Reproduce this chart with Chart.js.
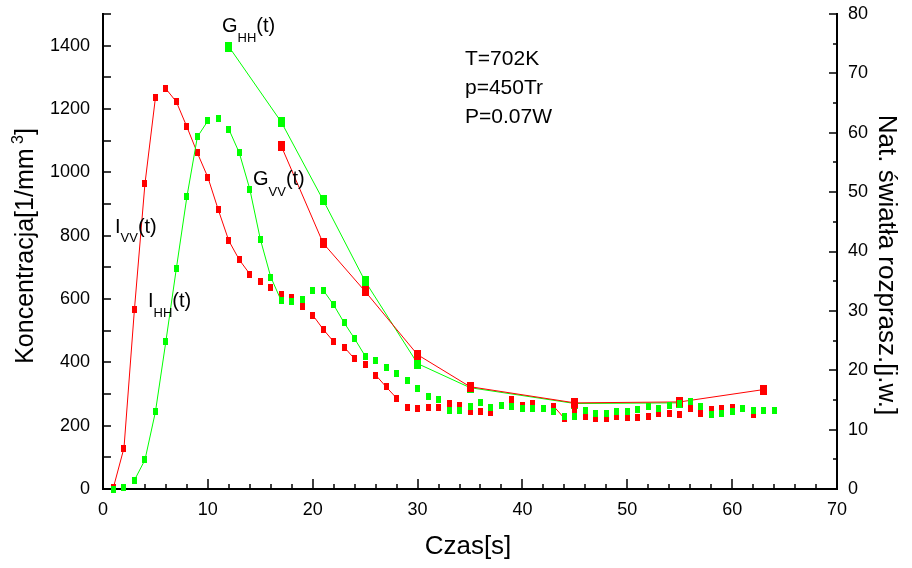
<!DOCTYPE html>
<html>
<head>
<meta charset="utf-8">
<script src="https://cdn.jsdelivr.net/npm/chart.js@4.4.1/dist/chart.umd.min.js"></script>
<style>
  html, body { margin: 0; padding: 0; background: #fff; }
</style>
</head>
<body>
<canvas id="wykres" width="912" height="568"></canvas>
<script>
// czas pomiaru dla I(t), s
const tI = [1, 2, 3, 4, 5, 6, 7, 8, 9, 10, 11, 12, 13, 14, 15, 16, 17, 18, 19, 20,
            21, 22, 23, 24, 25, 26, 27, 28, 29, 30, 31, 32, 33, 34, 35, 36, 37, 38, 39, 40,
            41, 42, 43, 44, 45, 46, 47, 48, 49, 50, 51, 52, 53, 54, 55, 56, 57, 58, 59, 60,
            61, 62, 63, 64];
// natezenie swiatla rozproszonego [j.w.] (prawa os)
const iVV = [0.3, 6.9, 30.3, 51.4, 65.9, 67.4, 65.2, 61.0, 56.6, 52.5, 47.0, 41.8, 38.6, 36.2, 35.0, 34.0, 32.8, 32.3, 30.8, 29.3,
             26.9, 24.8, 23.9, 21.9, 20.9, 19.2, 17.2, 15.3, 13.8, 13.5, 13.8, 13.7, 14.4, 14.1, 13.0, 13.0, 12.9, 14.0, 15.0, 14.1,
             14.4, 13.6, 13.9, 11.9, 13.3, 12.2, 11.8, 11.8, 12.2, 12.0, 12.0, 12.2, 12.8, 12.8, 12.6, 13.5, 12.8, 13.4, 13.5, 13.7,
             13.5, 12.5, 13.3, 13.2];
const iHH = [0.0, 0.3, 1.5, 4.9, 13.0, 24.9, 37.2, 49.2, 59.3, 62.0, 62.4, 60.6, 56.6, 50.5, 42.1, 35.7, 31.7, 31.5, 32.0, 33.5,
             33.5, 31.0, 28.0, 25.3, 22.4, 21.7, 20.5, 19.5, 18.2, 17.0, 15.6, 15.0, 13.3, 13.3, 13.9, 14.5, 13.7, 14.1, 13.9, 13.6,
             13.6, 13.6, 13.0, 12.2, 12.2, 13.2, 12.8, 12.8, 13.0, 13.0, 13.4, 13.9, 13.6, 14.1, 14.4, 14.8, 13.9, 12.6, 12.8, 13.0,
             13.6, 13.3, 13.3, 13.3];

// koncentracja [1/mm3] (lewa os)
const tGHH = [12, 17, 21, 25, 30, 35, 45, 55];
const gHH  = [1397, 1159, 912, 656, 396, 320, 270, 272];
const tGVV = [17, 21, 25, 30, 35, 45, 55, 63];
const gVV  = [1083, 776, 624, 424, 323, 272, 275, 314];

const xTicks  = [0, 10, 20, 30, 40, 50, 60, 70];
const yTicks  = [0, 200, 400, 600, 800, 1000, 1200, 1400];
const y1Ticks = [0, 10, 20, 30, 40, 50, 60, 70, 80];

const RED = '#ff0000';
const GREEN = '#00ff00';
const FONT = '"Liberation Sans", Arial, sans-serif';

function box(w, h, color) {
    const c = document.createElement('canvas');
    c.width = w;
    c.height = h;
    const g = c.getContext('2d');
    g.fillStyle = color;
    g.fillRect(0, 0, w, h);
    return c;
}

function pairs(xs, ys) {
    return xs.map((x, i) => ({ x: x, y: ys[i] }));
}

// linia znika gdy punkty leza blisko siebie (jak w Origin)
function gapSegment(color) {
    return {
        borderColor: c => Math.hypot(c.p1.x - c.p0.x, c.p1.y - c.p0.y) < 15 ? 'rgba(0,0,0,0)' : color
    };
}

function noPad(s) {
    s.paddingTop = 0;
    s.paddingBottom = 0;
    s.paddingLeft = 0;
    s.paddingRight = 0;
}

function drawParts(ctx, parts, x, y, align) {
    let total = 0;
    parts.forEach(p => { ctx.font = p[1] + 'px ' + FONT; total += ctx.measureText(p[0]).width; });
    let cx = align === 'center' ? x - total / 2 : x;
    ctx.textAlign = 'left';
    parts.forEach(p => {
        ctx.font = p[1] + 'px ' + FONT;
        ctx.fillText(p[0], cx, y + p[2]);
        cx += ctx.measureText(p[0]).width;
    });
}

const ramka = {
    id: 'ramka',
    beforeDatasetsDraw(chart) {
        const { ctx, chartArea: a, scales } = chart;
        ctx.save();
        ctx.strokeStyle = '#000';
        ctx.lineWidth = 2;
        ctx.beginPath();
        ctx.moveTo(a.left, a.top - 1);
        ctx.lineTo(a.left, a.bottom);
        ctx.lineTo(a.right, a.bottom);
        ctx.lineTo(a.right, a.top - 1);
        ctx.stroke();

        ctx.lineWidth = 1.5;
        ctx.beginPath();
        for (let v = 0; v <= 70; v += 2) {
            const px = Math.round(scales.x.getPixelForValue(v));
            const len = v % 10 === 0 ? 10 : 5;
            ctx.moveTo(px, a.bottom);
            ctx.lineTo(px, a.bottom - len);
        }
        for (let v = 0; v <= 1500; v += 100) {
            const py = Math.round(scales.y.getPixelForValue(v));
            ctx.moveTo(a.left, py);
            ctx.lineTo(a.left + 8, py);
        }
        for (let v = 0; v <= 80; v += 5) {
            const py = Math.round(scales.y1.getPixelForValue(v));
            const len = v % 10 === 0 ? 8 : 4;
            ctx.moveTo(a.right, py);
            ctx.lineTo(a.right - len, py);
        }
        ctx.stroke();
        ctx.restore();
    },
    afterDraw(chart) {
        const ctx = chart.ctx;
        ctx.save();
        ctx.fillStyle = '#000';
        ctx.textBaseline = 'alphabetic';

        // tytuly osi
        drawParts(ctx, [['Czas[s]', 26, 0]], 468, 554, 'center');

        ctx.save();
        ctx.translate(33, 246);
        ctx.rotate(-Math.PI / 2);
        drawParts(ctx, [['Koncentracja[1/mm', 25, 0], [' 3', 16, -10], [']', 25, 0]], 0, 0, 'center');
        ctx.restore();

        ctx.save();
        ctx.translate(879, 265);
        ctx.rotate(Math.PI / 2);
        drawParts(ctx, [['Nat. światła rozprasz.[j.w.]', 26, 0]], 0, 0, 'center');
        ctx.restore();

        // parametry
        drawParts(ctx, [['T=702K', 21, 0]], 465, 65, 'left');
        drawParts(ctx, [['p=450Tr', 21, 0]], 465, 94, 'left');
        drawParts(ctx, [['P=0.07W', 21, 0]], 465, 123, 'left');

        // opisy krzywych
        drawParts(ctx, [['G', 20, 0], ['HH', 13, 10], ['(t)', 20, 0]], 222, 32, 'left');
        drawParts(ctx, [['G', 20, 0], ['VV', 13, 11], ['(t)', 20, 0]], 253, 185, 'left');
        drawParts(ctx, [['I', 20, 0], ['VV', 13, 9], ['(t)', 20, 0]], 115, 233, 'left');
        drawParts(ctx, [['I', 20, 0], ['HH', 13, 10], ['(t)', 20, 0]], 148, 307, 'left');
        ctx.restore();
    }
};

new Chart(document.getElementById('wykres').getContext('2d'), {
    type: 'line',
    data: {
        datasets: [{
            label: 'I_HH',
            data: pairs(tI, iHH),
            yAxisID: 'y1',
            borderColor: GREEN,
            borderWidth: 1,
            pointStyle: box(5, 7, GREEN),
            segment: gapSegment(GREEN),
            clip: false
        }, {
            label: 'I_VV',
            data: pairs(tI, iVV),
            yAxisID: 'y1',
            borderColor: RED,
            borderWidth: 1,
            pointStyle: box(5, 7, RED),
            segment: gapSegment(RED),
            clip: false
        }, {
            label: 'G_VV',
            data: pairs(tGVV, gVV),
            yAxisID: 'y',
            borderColor: RED,
            borderWidth: 1,
            pointStyle: box(7, 10, RED),
            clip: false
        }, {
            label: 'G_HH',
            data: pairs(tGHH, gHH),
            yAxisID: 'y',
            borderColor: GREEN,
            borderWidth: 1,
            pointStyle: box(7, 10, GREEN),
            clip: false
        }]
    },
    options: {
        responsive: false,
        animation: false,
        devicePixelRatio: 1,
        layout: { padding: { top: 14, left: 0, right: 0, bottom: 0 } },
        plugins: { legend: { display: false }, tooltip: { enabled: false } },
        elements: { line: { tension: 0, fill: false } },
        scales: {
            x: {
                type: 'linear',
                min: 0,
                max: 70,
                afterBuildTicks: s => { s.ticks = xTicks.map(v => ({ value: v })); },
                afterFit: s => { s.height = 79; noPad(s); },
                grid: { display: false, drawTicks: false },
                border: { display: false },
                ticks: { color: '#000', padding: 10, maxRotation: 0, callback: v => String(v), font: { family: FONT, size: 18 } }
            },
            y: {
                position: 'left',
                min: 0,
                max: 1500,
                afterBuildTicks: s => { s.ticks = yTicks.map(v => ({ value: v })); },
                afterFit: s => { s.width = 103; noPad(s); },
                grid: { display: false, drawTicks: false },
                border: { display: false },
                ticks: { color: '#000', padding: 13, callback: v => String(v), font: { family: FONT, size: 18 } }
            },
            y1: {
                position: 'right',
                min: 0,
                max: 80,
                afterBuildTicks: s => { s.ticks = y1Ticks.map(v => ({ value: v })); },
                afterFit: s => { s.width = 75; noPad(s); },
                grid: { display: false, drawTicks: false },
                border: { display: false },
                ticks: { color: '#000', padding: 11, callback: v => String(v), font: { family: FONT, size: 18 } }
            }
        }
    },
    plugins: [ramka]
});
</script>
</body>
</html>
